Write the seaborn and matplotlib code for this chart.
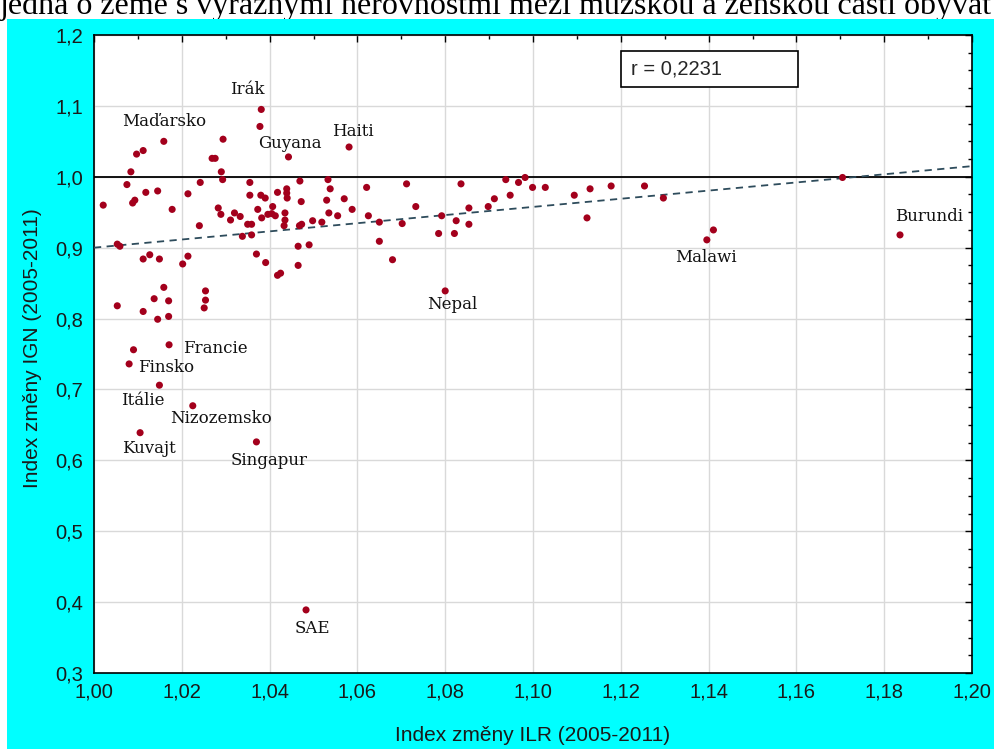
import matplotlib
matplotlib.use("Agg")
import matplotlib.pyplot as plt
from matplotlib import font_manager as fm
from matplotlib.patches import Rectangle
from matplotlib.ticker import MultipleLocator, FuncFormatter
import seaborn as sns

# Index změny ILR (x) a IGN (y), 2005-2011
ilr = [1.0021, 1.0053, 1.0059, 1.0053, 1.0075, 1.0084, 1.0097, 1.0112, 1.0088, 1.0093,
       1.0118, 1.0145, 1.0159, 1.0178, 1.0112, 1.0127, 1.0149, 1.0112, 1.0137, 1.0159,
       1.0170, 1.0145, 1.0170, 1.0202, 1.0214, 1.0214, 1.0240, 1.0242, 1.0254, 1.0254,
       1.0251, 1.0269, 1.0276, 1.0294, 1.0290, 1.0293, 1.0283, 1.0289, 1.0311, 1.0320,
       1.0333, 1.0338, 1.0355, 1.0355, 1.0350, 1.0359, 1.0359, 1.0370, 1.0373, 1.0382,
       1.0380, 1.0390, 1.0381, 1.0378, 1.0391, 1.0396, 1.0405, 1.0413, 1.0407, 1.0418,
       1.0418, 1.0425, 1.0435, 1.0435, 1.0433, 1.0439, 1.0439, 1.0440, 1.0443, 1.0465,
       1.0465, 1.0469, 1.0472, 1.0468, 1.0473, 1.0490, 1.0498, 1.0519, 1.0530, 1.0533,
       1.0538, 1.0535, 1.0555, 1.0570, 1.0581, 1.0588, 1.0621, 1.0625, 1.0650, 1.0650,
       1.0680, 1.0702, 1.0712, 1.0733, 1.0785, 1.0792, 1.0800, 1.0821, 1.0825, 1.0836,
       1.0854, 1.0854, 1.0898, 1.0912, 1.0938, 1.0948, 1.0967, 1.0982, 1.0999, 1.1028,
       1.1094, 1.1130, 1.1123, 1.1178, 1.1254, 1.1297, 1.1396, 1.1411, 1.1705, 1.1836,
       1.0090, 1.0171, 1.0080, 1.0149, 1.0225, 1.0105, 1.0370, 1.0483]
ign = [0.960, 0.905, 0.902, 0.818, 0.989, 1.007, 1.032, 1.037, 0.963, 0.967,
       0.978, 0.980, 1.050, 0.954, 0.884, 0.890, 0.884, 0.810, 0.828, 0.844,
       0.825, 0.799, 0.803, 0.877, 0.888, 0.976, 0.931, 0.992, 0.839, 0.826,
       0.815, 1.026, 1.026, 1.053, 1.007, 0.996, 0.956, 0.947, 0.939, 0.949,
       0.944, 0.916, 0.992, 0.974, 0.933, 0.933, 0.918, 0.891, 0.954, 0.942,
       0.974, 0.970, 1.095, 1.071, 0.879, 0.947, 0.948, 0.945, 0.958, 0.978,
       0.861, 0.864, 0.949, 0.939, 0.931, 0.983, 0.977, 0.970, 1.028, 0.875,
       0.902, 0.994, 0.965, 0.931, 0.933, 0.904, 0.938, 0.936, 0.967, 0.996,
       0.983, 0.949, 0.945, 0.969, 1.042, 0.954, 0.985, 0.945, 0.936, 0.909,
       0.883, 0.934, 0.990, 0.958, 0.920, 0.945, 0.839, 0.920, 0.938, 0.990,
       0.956, 0.933, 0.958, 0.969, 0.996, 0.974, 0.992, 0.999, 0.985, 0.985,
       0.974, 0.983, 0.942, 0.987, 0.987, 0.970, 0.911, 0.925, 0.999, 0.918,
       0.756, 0.763, 0.736, 0.706, 0.677, 0.639, 0.626, 0.389]

# pojmenované státy a pořadí jejich bodu v datech
label_names = ["Irák", "Maďarsko", "Guyana", "Haiti", "Nepal", "Malawi", "Burundi",
               "Francie", "Finsko", "Itálie", "Nizozemsko", "Kuvajt", "Singapur", "SAE"]
label_idx = [52, 12, 68, 84, 96, 116, 119, 121, 122, 123, 124, 125, 126, 127]

# lineární trend (krajní body přímky) a korelační koeficient
fit_x = [1.00, 1.20]
fit_y = [0.900, 1.015]
r_value = 0.2231

x_ticks = [1.00, 1.02, 1.04, 1.06, 1.08, 1.10, 1.12, 1.14, 1.16, 1.18, 1.20]
y_ticks = [0.3, 0.4, 0.5, 0.6, 0.7, 0.8, 0.9, 1.0, 1.1, 1.2]

sans = "Liberation Sans"
serif = "DejaVu Serif"

sns.set_style("white")
plt.rcParams["font.family"] = [sans, "DejaVu Sans"]

W, H = 995, 749
fig = plt.figure(figsize=(W / 100, H / 100), dpi=100, facecolor="white")
fig.patches.append(Rectangle((7 / W, 0), 1, (H - 19) / H, transform=fig.transFigure,
                             facecolor="#00ffff", edgecolor="none", zorder=-10))
# řádek textu nad grafem, z něhož je vidět jen spodní část
fig.text(0.0, 1.0 - 14 / H, "jedna o země s výraznými nerovnostmi mezi mužskou a ženskou částí obyvat",
         family="Liberation Serif", fontsize=23, va="baseline", ha="left", color="black",
         zorder=-20)

L, R, T, B = 94, 972, 35, 673
ax = fig.add_axes([L / W, 1 - B / H, (R - L) / W, (B - T) / H])
ax.set_facecolor("white")

ax.set_xlim(1.0, 1.2)
ax.set_ylim(0.3, 1.2)
ax.set_xticks(x_ticks)
ax.set_yticks(y_ticks)
ax.xaxis.set_minor_locator(MultipleLocator(0.01))
ax.yaxis.set_minor_locator(MultipleLocator(0.025))
ax.xaxis.set_major_formatter(FuncFormatter(lambda v, p: f"{v:.2f}".replace(".", ",")))
ax.yaxis.set_major_formatter(FuncFormatter(lambda v, p: f"{v:.1f}".replace(".", ",")))
ax.grid(True, which="major", color="#d9d9d9", linewidth=1.0)
ax.set_axisbelow(True)

ax.tick_params(which="both", direction="in", top=True, right=True, color="black",
               labelsize=14.5, labelcolor="#1a1a1a")
ax.tick_params(which="major", length=5, width=1)
ax.tick_params(which="minor", length=3, width=1)
ax.tick_params(axis="x", pad=7)
ax.tick_params(axis="y", pad=8)
for s in ax.spines.values():
    s.set_color("black")
    s.set_linewidth(1.2)
    s.set_visible(True)

ax.axhline(1.0, color="black", linewidth=1.3, zorder=2)
sns.lineplot(x=fit_x, y=fit_y, ax=ax, color="#2e4c5c", linewidth=1.3,
             linestyle=(0, (4, 3)), zorder=3)
sns.scatterplot(x=ilr, y=ign, ax=ax, color="#a3001c", s=26, edgecolor="none",
                linewidth=0, zorder=4)

offsets = {
    "Irák": (-10, 14, "center"), "Maďarsko": (0, 14, "center"), "Guyana": (1, 10, "center"),
    "Haiti": (3, 11.5, "center"), "Nepal": (5, -10, "center"), "Malawi": (-1, -13, "center"),
    "Burundi": (21, 13, "center"), "Francie": (10, -3, "left"), "Finsko": (6.5, -2.5, "left"),
    "Itálie": (-12, -11, "center"), "Nizozemsko": (20, -9.5, "center"),
    "Kuvajt": (6.5, -11.5, "center"), "Singapur": (9, -13.3, "center"), "SAE": (4.5, -13.7, "center"),
}
for name, i in zip(label_names, label_idx):
    dx, dy, ha = offsets[name]
    ax.annotate(name, (ilr[i], ign[i]), xytext=(dx, dy), textcoords="offset points",
                ha=ha, va="center", family=serif, fontsize=12, color="#111111", zorder=5)

# rámeček s korelačním koeficientem
bx0, bx1, by0, by1 = 621, 798, 51, 87
ax.add_patch(Rectangle(((bx0 - L) / (R - L), 1 - (by1 - T) / (B - T)), (bx1 - bx0) / (R - L),
                       (by1 - by0) / (B - T), transform=ax.transAxes, facecolor="white",
                       edgecolor="black", linewidth=1.2, zorder=6))
ax.text((631 - L) / (R - L), 1 - (69 - T) / (B - T), f"r = {r_value:.4f}".replace(".", ","),
        transform=ax.transAxes, ha="left", va="center", fontsize=14.5, zorder=7)

ax.set_xlabel("Index změny ILR (2005-2011)", fontsize=15, color="#1a1a1a")
ax.set_ylabel("Index změny IGN (2005-2011)", fontsize=15, color="#1a1a1a")
ax.xaxis.set_label_coords(0.5, -(726 - B) / (B - T))
ax.yaxis.set_label_coords(-(L - 42) / (R - L), (B - 348) / (B - T))

fig.savefig("out.png", dpi=100, facecolor=fig.get_facecolor())
